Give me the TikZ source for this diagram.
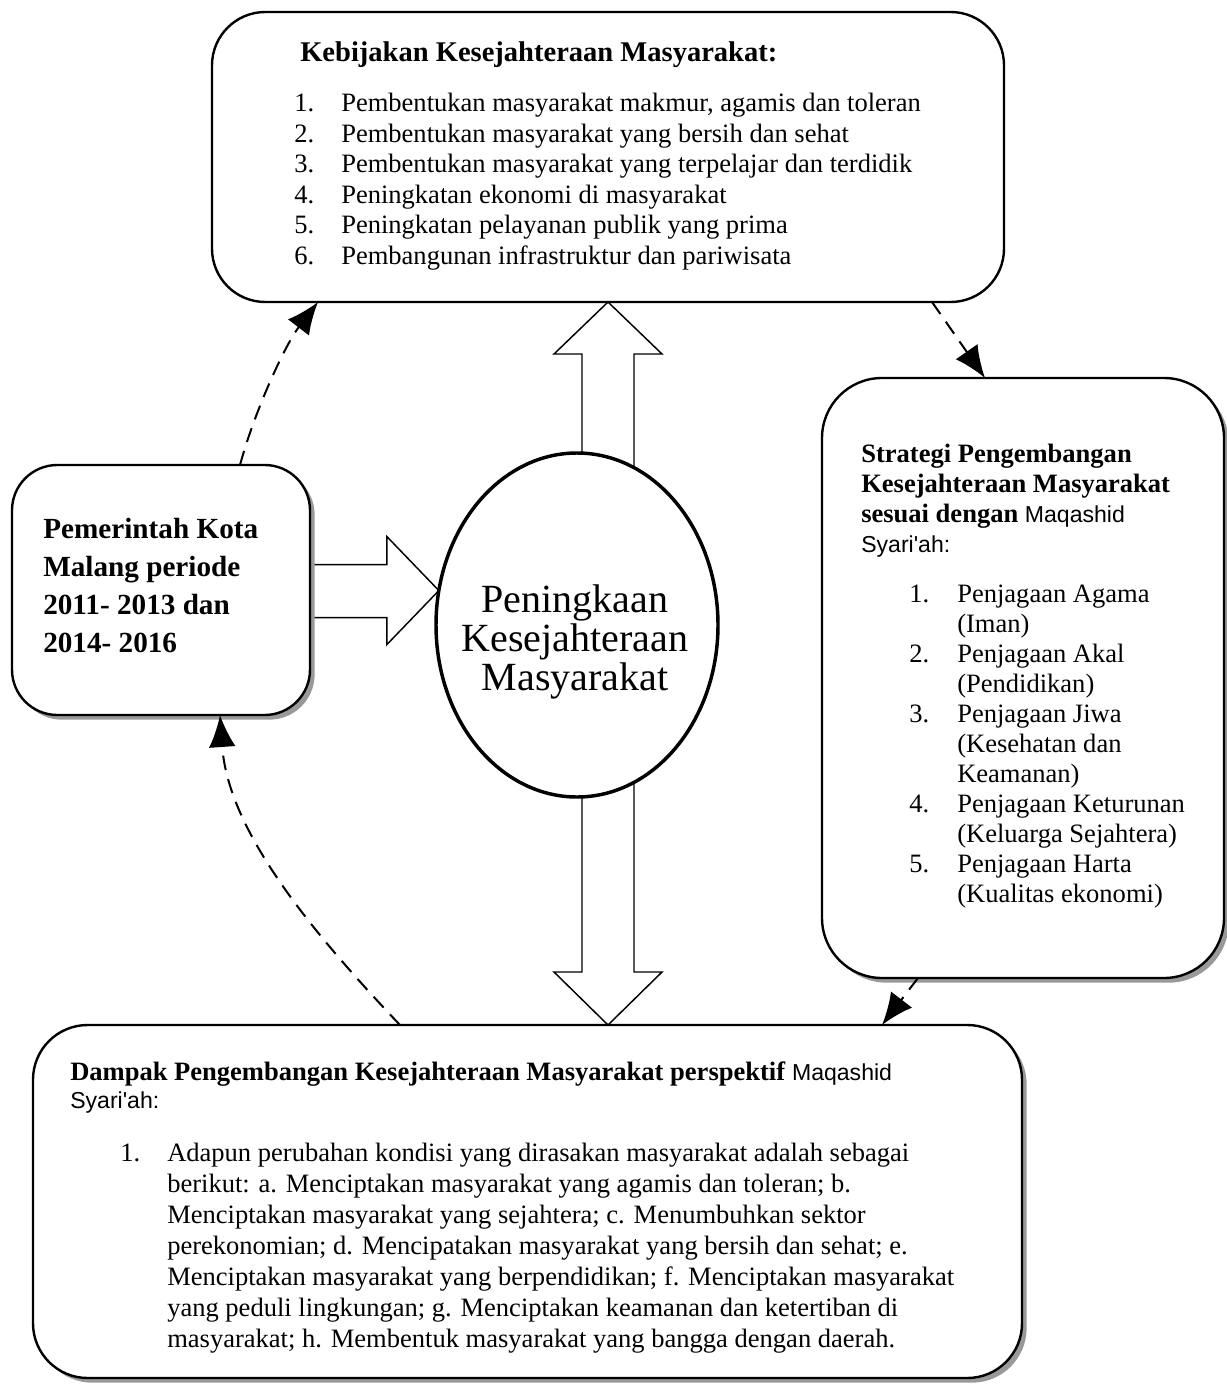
\documentclass[tikz,border=0pt]{standalone}
\usepackage{fontspec}
\setmainfont{Liberation Serif}
\newfontfamily\msans{Liberation Sans}
\usetikzlibrary{shadows,fit,arrows.meta,calc,shapes.geometric,backgrounds}

\begin{document}
\begin{tikzpicture}[x=0.75pt,y=-0.75pt,
  rbox/.style={draw=black, line width=1.8pt, fill=white, rounded corners=#1, inner sep=0pt, outer sep=0pt},
  shad/.style={drop shadow={shadow xshift=3.5pt, shadow yshift=-3.5pt, fill=black!40, opacity=1}},
  blk/.style={draw=black, line width=1.1pt, fill=white, line join=miter},
  dsh/.style={line width=1.5pt, dash pattern=on 11pt off 7pt, -{Latex[length=24pt,width=20pt]}},
  txt/.style={anchor=base west, inner sep=0pt, align=left},
]
\useasboundingbox (0,0) rectangle (1227,1384);

% boxes
\node[rbox=40pt, fit={(212,12)(1004,302)}] (kb) {};
\node[rbox=34pt, shad, fit={(12,465)(310,715)}] (lb) {};
\node[rbox=45pt, shad, fit={(822,378)(1224,978)}] (rb) {};
\node[rbox=41pt, shad, fit={(33,1025)(1022,1378)}] (db) {};
\node[ellipse, draw, line width=2.6pt, fill=white, inner sep=0pt, outer sep=0pt,
      minimum width={282*0.75pt}, minimum height={344*0.75pt}] (ci) at (577,625) {};

% texts (multi-line nodes are anchored at the baseline of their last line)
\node[txt, font=\fontsize{21.4}{22.9}\selectfont] (kt) at (300,62) {\textbf{Kebijakan Kesejahteraan Masyarakat:}};
\node[txt, font=\fontsize{19.9}{22.9}\selectfont] (kl) at (294,264.5) {%
\makebox[35.25pt][l]{1.}Pembentukan masyarakat makmur, agamis dan toleran\\
\makebox[35.25pt][l]{2.}Pembentukan masyarakat yang bersih dan sehat\\
\makebox[35.25pt][l]{3.}Pembentukan masyarakat yang terpelajar dan terdidik\\
\makebox[35.25pt][l]{4.}Peningkatan ekonomi di masyarakat\\
\makebox[35.25pt][l]{5.}Peningkatan pelayanan publik yang prima\\
\makebox[35.25pt][l]{6.}Pembangunan infrastruktur dan pariwisata};

\node[txt, font=\bfseries\fontsize{21.9}{28.5}\selectfont] (lt) at (43,652) {Pemerintah Kota\\Malang periode\\2011- 2013 dan\\2014- 2016};

\node[align=center, inner sep=0pt, font=\fontsize{30}{29.5}\selectfont] (ct) at (575,642) {Peningkaan\\Kesejahteraan\\Masyarakat};

\node[txt, font=\fontsize{19.9}{22.5}\selectfont] (rt) at (861,552) {%
\textbf{Strategi Pengembangan}\\
\textbf{Kesejahteraan Masyarakat}\\
\textbf{sesuai dengan} {\msans\fontsize{17.3}{22.5}\selectfont Maqashid}\\
{\msans\fontsize{17.3}{22.5}\selectfont Syari'ah:}};
\node[txt, font=\fontsize{19.9}{22.5}\selectfont] (rl) at (909,902) {%
\makebox[36pt][l]{1.}Penjagaan Agama\\
\hspace*{36pt}(Iman)\\
\makebox[36pt][l]{2.}Penjagaan Akal\\
\hspace*{36pt}(Pendidikan)\\
\makebox[36pt][l]{3.}Penjagaan Jiwa\\
\hspace*{36pt}(Kesehatan dan\\
\hspace*{36pt}Keamanan)\\
\makebox[36pt][l]{4.}Penjagaan Keturunan\\
\hspace*{36pt}(Keluarga Sejahtera)\\
\makebox[36pt][l]{5.}Penjagaan Harta\\
\hspace*{36pt}(Kualitas ekonomi)};

\node[txt, font=\fontsize{19.9}{21}\selectfont] (dt) at (70,1108) {%
\textbf{Dampak Pengembangan Kesejahteraan Masyarakat perspektif} {\msans\fontsize{17.3}{21}\selectfont Maqashid}\\
{\msans\fontsize{17.3}{21}\selectfont Syari'ah:}};
\node[txt, font=\fontsize{19.9}{23.25}\selectfont] (dl) at (120,1347) {%
\makebox[35.25pt][l]{1.}Adapun perubahan kondisi yang dirasakan masyarakat adalah sebagai\\
\hspace*{35.25pt}berikut: a. Menciptakan masyarakat yang agamis dan toleran; b.\\
\hspace*{35.25pt}Menciptakan masyarakat yang sejahtera; c. Menumbuhkan sektor\\
\hspace*{35.25pt}perekonomian; d. Mencipatakan masyarakat yang bersih dan sehat; e.\\
\hspace*{35.25pt}Menciptakan masyarakat yang berpendidikan; f. Menciptakan masyarakat\\
\hspace*{35.25pt}yang peduli lingkungan; g. Menciptakan keamanan dan ketertiban di\\
\hspace*{35.25pt}masyarakat; h. Membentuk masyarakat yang bangga dengan daerah.};

% dashed connectors
\draw[dsh] ($(lb.north west)+(228,0)$) .. controls (255,410) and (285,345) .. ($(kb.south west)+(106,0)$);
\draw[dsh] ($(kb.south west)+(720,0)$) -- ($(rb.north west)+(163,0)$);
\draw[dsh] ($(rb.south west)+(96,0)$) -- ($(db.north west)+(849,0)$);
\draw[dsh] ($(db.north west)+(367,0)$) .. controls (310,930) and (228,830) .. ($(lb.south west)+(208,0)$);

% block arrows (behind)
\begin{scope}[on background layer]
\fill[white] (0,0) rectangle (1227,1384);
\draw[blk] (kb.south) -- ++(54,52) -- ++(-28,0) -- ++(0,150) -- ++(-52,0) -- ++(0,-150) -- ++(-28,0) -- cycle;
\draw[blk] (kb.south |- db.north) -- ++(54,-53) -- ++(-28,0) -- ++(0,-230) -- ++(-52,0) -- ++(0,230) -- ++(-28,0) -- cycle;
\draw[blk] (ci.166) -- ++(-52,-54) -- ++(0,28) -- ++(-90,0) -- ++(0,53) -- ++(90,0) -- ++(0,27) -- cycle;
\end{scope}
\end{tikzpicture}
\end{document}
